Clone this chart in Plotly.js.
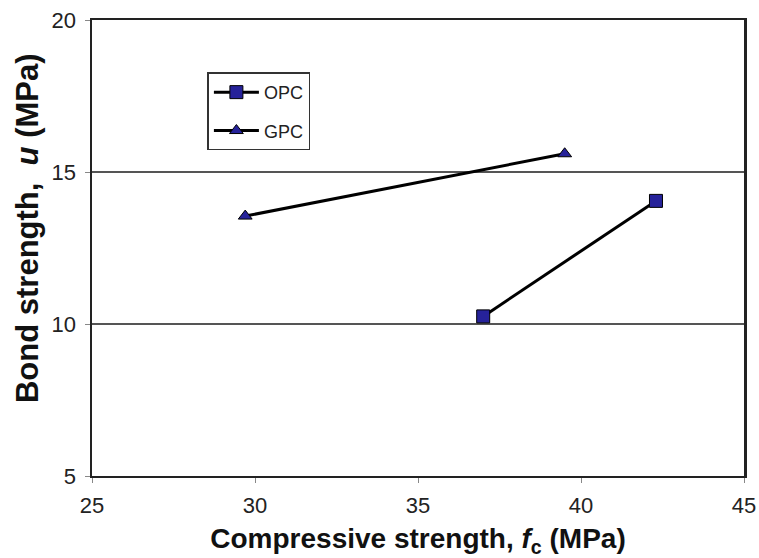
<!DOCTYPE html>
<html>
<head>
<meta charset="utf-8">
<script src="https://cdn.plot.ly/plotly-3.0.1.min.js"></script>
<style>html,body{margin:0;padding:0;background:#fff;}#chart{width:759px;height:558px;}</style>
</head>
<body>
<div id="chart"></div>
<script>
// Compressive strength (MPa) vs bond strength (MPa)
const opcStrength = [37.0, 42.3];
const opcBond = [10.25, 14.05];
const gpcStrength = [29.7, 39.5];
const gpcBond = [13.55, 15.6];
const xTicks = [25, 30, 35, 40, 45];
const yTicks = [5, 10, 15, 20];

const markerFill = '#26229a';
const lineColor = '#000000';

const traces = [
  {
    x: opcStrength, y: opcBond, name: 'OPC', mode: 'lines+markers', legendgroup: 'opc',
    line: {color: lineColor, width: 3},
    marker: {symbol: 'square', size: 13, color: markerFill, line: {color: '#000', width: 1}}
  },
  {
    x: gpcStrength, y: gpcBond, name: 'GPC', mode: 'lines+markers', legendgroup: 'gpc',
    line: {color: lineColor, width: 3},
    marker: {symbol: 'triangle-up', size: 12, color: markerFill, line: {color: '#000', width: 1}}
  }
];

const layout = {
  width: 759, height: 558,
  margin: {l: 92, r: 15, t: 20, b: 82},
  paper_bgcolor: '#fff', plot_bgcolor: '#fff',
  font: {family: 'Liberation Sans, Arial, sans-serif', color: '#222'},
  showlegend: true,
  legend: {
    x: 0.177, y: 0.885, xanchor: 'left', yanchor: 'top',
    bordercolor: '#333', borderwidth: 1.5, bgcolor: '#fff',
    font: {size: 18, color: '#222'}, tracegroupgap: 12, itemwidth: 45
  },
  xaxis: {
    range: [25, 45], tickvals: xTicks, ticktext: xTicks.map(String),
    showgrid: false, zeroline: false,
    showline: true, linecolor: '#222', linewidth: 2, mirror: true,
    ticks: 'outside', ticklen: 5, tickcolor: '#888', ticklabelstandoff: 4,
    tickfont: {size: 22, color: '#222'},
    title: {text: '<b>Compressive strength, <i>f</i><sub>c</sub> (MPa)</b>', font: {size: 28, color: '#111'}, standoff: 12}
  },
  yaxis: {
    range: [5, 20], tickvals: yTicks, ticktext: yTicks.map(String),
    showgrid: true, gridcolor: '#555', gridwidth: 1.5, zeroline: false,
    showline: true, linecolor: '#222', linewidth: 2.5, mirror: true,
    ticks: 'outside', ticklen: 5, tickcolor: '#888', ticklabelstandoff: 4,
    tickfont: {size: 22, color: '#222'}
  },
  annotations: [{
    text: '<b>Bond strength,  <i>u</i> (MPa)</b>',
    xref: 'paper', yref: 'paper', x: -0.098, y: 0.544,
    xanchor: 'center', yanchor: 'middle', textangle: -90, showarrow: false,
    font: {size: 31, color: '#111'}
  }]
};

Plotly.newPlot('chart', traces, layout, {displayModeBar: false, staticPlot: true});
</script>
</body>
</html>
